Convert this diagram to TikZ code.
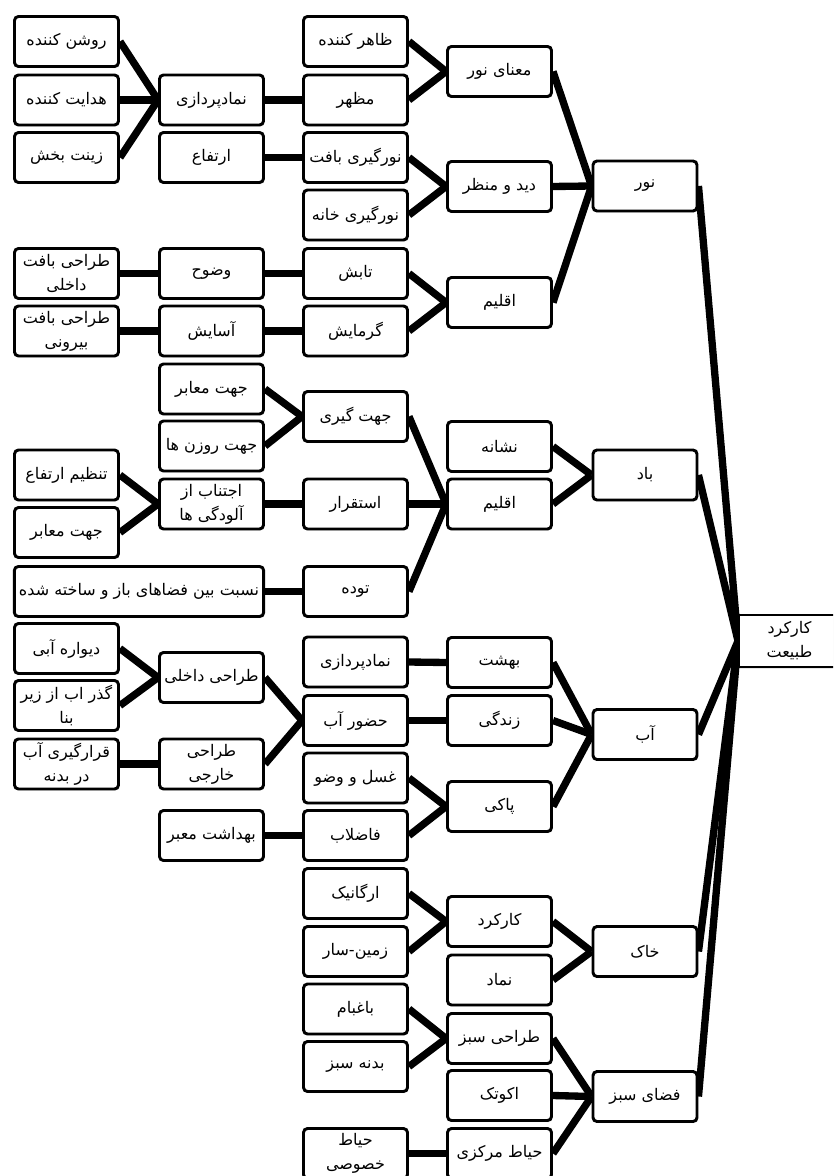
\documentclass[tikz,border=0pt]{standalone}
\usepackage{fontspec}
\newfontfamily\fafont[Script=Arabic]{DejaVu Sans}
\TeXXeTstate=1
\usetikzlibrary{backgrounds,shadows}
\newcommand{\fa}[1]{{\fafont\beginR #1\endR}}
\tikzset{box/.style={rectangle,draw,line width=2.2pt,rounded corners=3pt,fill=white,minimum width=78pt,minimum height=37.5pt,inner sep=1pt,align=center,font=\fontsize{12}{18}\selectfont,drop shadow={opacity=.2,shadow xshift=.8pt,shadow yshift=-1.2pt}},lnk/.style={line width=5.5pt}}

\begin{document}
\begin{tikzpicture}[x=0.75pt,y=-0.75pt]
  \useasboundingbox (0,0) rectangle (833,1176);
  \clip (0,0) rectangle (833,1176);
  % column A
  \node[box] (a1) at (66.5,41.5) {\fa{روشن کننده}};
  \node[box] (a2) at (66.5,100) {\fa{هدایت کننده}};
  \node[box] (a3) at (66.5,157.5) {\fa{زینت بخش}};
  \node[box] (a4) at (66.5,273.5) {\fa{طراحی بافت}\\\fa{داخلی}};
  \node[box] (a5) at (66.5,331) {\fa{طراحی بافت}\\\fa{بیرونی}};
  \node[box] (a6) at (66.5,475) {\fa{تنظیم ارتفاع}};
  \node[box] (a7) at (66.5,532.5) {\fa{جهت معابر}};
  \node[box,minimum width=187pt] (a8) at (139,591.5) {\fa{نسبت بین فضاهای باز و ساخته شده}};
  \node[box] (a9) at (66.5,648.5) {\fa{دیواره آبی}};
  \node[box] (a10) at (66.5,705.5) {\fa{گذر اب از زیر}\\\fa{بنا}};
  \node[box] (a11) at (66.5,764) {\fa{قرارگیری آب}\\\fa{در بدنه}};
  % column B
  \node[box] (b1) at (211.5,100) {\fa{نمادپردازی}};
  \node[box] (b2) at (211.5,157.5) {\fa{ارتفاع}};
  \node[box] (b3) at (211.5,273.5) {\fa{وضوح}};
  \node[box] (b4) at (211.5,331) {\fa{آسایش}};
  \node[box] (b5) at (211.5,389) {\fa{جهت معابر}};
  \node[box] (b6) at (211.5,446) {\fa{جهت روزن ها}};
  \node[box] (b7) at (211.5,504) {\fa{اجتناب از}\\\fa{آلودگی ها}};
  \node[box] (b8) at (211.5,677.5) {\fa{طراحی داخلی}};
  \node[box] (b9) at (211.5,764) {\fa{طراحی}\\\fa{خارجی}};
  \node[box] (b10) at (211.5,835.5) {\fa{بهداشت معبر}};
  % column C
  \node[box] (c1) at (355.5,41.5) {\fa{ظاهر کننده}};
  \node[box] (c2) at (355.5,100) {\fa{مظهر}};
  \node[box] (c3) at (355.5,157.5) {\fa{نورگیری بافت}};
  \node[box] (c4) at (355.5,215) {\fa{نورگیری خانه}};
  \node[box] (c5) at (355.5,273.5) {\fa{تابش}};
  \node[box] (c6) at (355.5,331) {\fa{گرمایش}};
  \node[box] (c7) at (355.5,416.5) {\fa{جهت گیری}};
  \node[box] (c8) at (355.5,504) {\fa{استقرار}};
  \node[box] (c9) at (355.5,591.5) {\fa{توده}};
  \node[box] (c10) at (355.5,662) {\fa{نمادپردازی}};
  \node[box] (c11) at (355.5,720.5) {\fa{حضور آب}};
  \node[box] (c12) at (355.5,778) {\fa{غسل و وضو}};
  \node[box] (c13) at (355.5,835.5) {\fa{فاضلاب}};
  \node[box] (c14) at (355.5,893.5) {\fa{ارگانیک}};
  \node[box] (c15) at (355.5,951.5) {\fa{زمین-سار}};
  \node[box] (c16) at (355.5,1009) {\fa{باغبام}};
  \node[box] (c17) at (355.5,1066.5) {\fa{بدنه سبز}};
  \node[box] (c18) at (355.5,1153.5) {\fa{حیاط}\\\fa{خصوصی}};
  % column D
  \node[box] (d1) at (499.5,71.5) {\fa{معنای نور}};
  \node[box] (d2) at (499.5,186.5) {\fa{دید و منظر}};
  \node[box] (d3) at (499.5,302.5) {\fa{اقلیم}};
  \node[box] (d4) at (499.5,446.5) {\fa{نشانه}};
  \node[box] (d5) at (499.5,504) {\fa{اقلیم}};
  \node[box] (d6) at (499.5,662.5) {\fa{بهشت}};
  \node[box] (d7) at (499.5,720.5) {\fa{زندگی}};
  \node[box] (d8) at (499.5,806.5) {\fa{پاکی}};
  \node[box] (d9) at (499.5,921.5) {\fa{کارکرد}};
  \node[box] (d10) at (499.5,980) {\fa{نماد}};
  \node[box] (d11) at (499.5,1038.5) {\fa{طراحی سبز}};
  \node[box] (d12) at (499.5,1095.5) {\fa{اکوتک}};
  \node[box] (d13) at (499.5,1153.5) {\fa{حیاط مرکزی}};
  % column E
  \node[box] (e1) at (645,186) {\fa{نور}};
  \node[box] (e2) at (645,475) {\fa{باد}};
  \node[box] (e3) at (645,734.5) {\fa{آب}};
  \node[box] (e4) at (645,951.5) {\fa{خاک}};
  \node[box] (e5) at (645,1096.5) {\fa{فضای سبز}};
  % root
  \node[box,anchor=west,rounded corners=0pt,line width=1.2pt,minimum width=76pt,minimum height=39pt] (root) at (738,641) {\fa{کارکرد}\\\fa{طبیعت}};
  \begin{scope}[on background layer]
  \draw[lnk] (a1.east) edge (b1.west) (a2.east) edge (b1.west) (a3.east) edge (b1.west)
    (b1.east) edge (c2.west) (b2.east) edge (c3.west)
    (a4.east) edge (b3.west) (a5.east) edge (b4.west)
    (b3.east) edge (c5.west) (b4.east) edge (c6.west)
    (c1.east) edge (d1.west) (c2.east) edge (d1.west)
    (c3.east) edge (d2.west) (c4.east) edge (d2.west)
    (c5.east) edge (d3.west) (c6.east) edge (d3.west)
    (d1.east) edge (e1.west) (d2.east) edge (e1.west) (d3.east) edge (e1.west);
  \draw[lnk] (b5.east) edge (c7.west) (b6.east) edge (c7.west)
    (a6.east) edge (b7.west) (a7.east) edge (b7.west)
    (b7.east) edge (c8.west) (a8.east) edge (c9.west)
    (c7.east) edge (d5.west) (c8.east) edge (d5.west) (c9.east) edge (d5.west)
    (d4.east) edge (e2.west) (d5.east) edge (e2.west);
  \draw[lnk] (a9.east) edge (b8.west) (a10.east) edge (b8.west) (a11.east) edge (b9.west)
    (b8.east) edge (c11.west) (b9.east) edge (c11.west) (b10.east) edge (c13.west)
    (c10.east) edge (d6.west) (c11.east) edge (d7.west)
    (c12.east) edge (d8.west) (c13.east) edge (d8.west)
    (d6.east) edge (e3.west) (d7.east) edge (e3.west) (d8.east) edge (e3.west);
  \draw[lnk] (c14.east) edge (d9.west) (c15.east) edge (d9.west)
    (d9.east) edge (e4.west) (d10.east) edge (e4.west);
  \draw[lnk] (c16.east) edge (d11.west) (c17.east) edge (d11.west) (c18.east) edge (d13.west)
    (d11.east) edge (e5.west) (d12.east) edge (e5.west) (d13.east) edge (e5.west);
  \draw[lnk] (e1.east) edge (root.west) (e2.east) edge (root.west) (e3.east) edge (root.west)
    (e4.east) edge (root.west) (e5.east) edge (root.west);
  \end{scope}
\end{tikzpicture}
\end{document}
